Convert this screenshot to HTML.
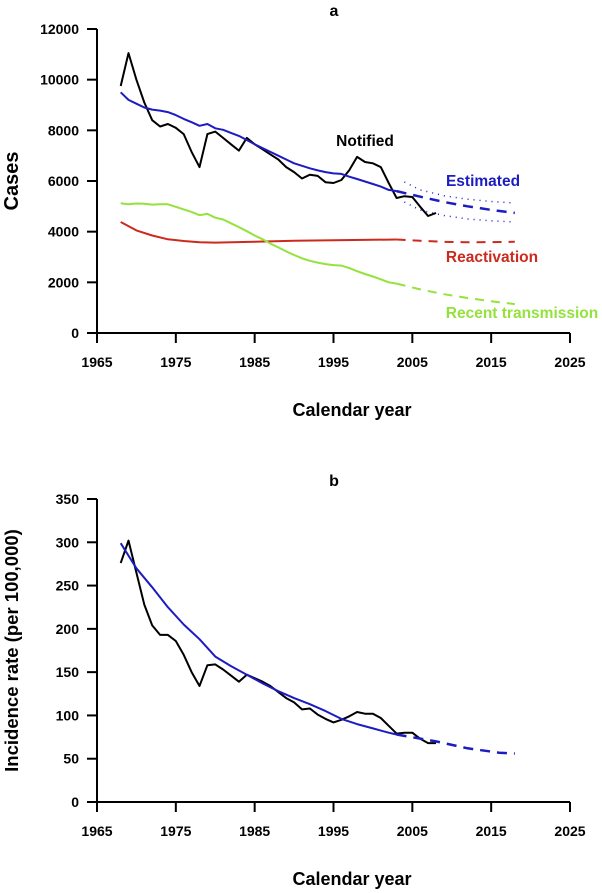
<!DOCTYPE html>
<html><head><meta charset="utf-8"><style>
body{margin:0;background:#fff}
svg{display:block;font-family:"Liberation Sans",Arial,sans-serif;font-weight:bold}
</style></head><body>
<svg id="c" width="602" height="893" viewBox="0 0 602 893"></svg>
<script>
const xTicks=[1965,1975,1985,1995,2005,2015,2025];
const aTicks=[0,2000,4000,6000,8000,10000,12000];
const bTicks=[0,50,100,150,200,250,300,350];
const yrsObs=[1968,1969,1970,1971,1972,1973,1974,1975,1976,1977,1978,1979,1980,1981,1982,1983,1984,1985,1986,1987,1988,1989,1990,1991,1992,1993,1994,1995,1996,1997,1998,1999,2000,2001,2002,2003,2004,2005,2006,2007,2008];
const notifiedA=[9750,11050,10000,9100,8400,8150,8250,8100,7850,7150,6550,7850,7950,7700,7450,7200,7700,7450,7250,7050,6850,6550,6350,6100,6250,6200,5950,5920,6040,6430,6950,6750,6700,6550,5920,5330,5400,5370,4980,4620,4740];
const yrsEst=[1968,1969,1970,1971,1972,1973,1974,1975,1976,1977,1978,1979,1980,1981,1982,1983,1984,1985,1986,1987,1988,1989,1990,1991,1992,1993,1994,1995,1996,1997,1998,1999,2000,2001,2002,2003];
const estimatedA=[9500,9200,9050,8900,8820,8780,8720,8600,8450,8320,8180,8250,8080,8020,7900,7780,7620,7450,7300,7150,7000,6850,6700,6600,6500,6420,6350,6300,6280,6170,6080,5980,5880,5780,5650,5600];
const recentA=[5120,5080,5110,5100,5070,5080,5080,4980,4880,4780,4650,4700,4550,4480,4330,4180,4020,3850,3700,3530,3380,3220,3080,2950,2850,2780,2720,2680,2660,2560,2440,2330,2230,2120,2000,1950];
const yrsReact=[1968,1970,1972,1974,1976,1978,1980,1985,1990,1995,2000,2003];
const reactA=[4380,4050,3850,3700,3630,3580,3570,3600,3640,3660,3680,3690];
const yrsProj=[2003,2006,2009,2012,2015,2018];
const estProjA=[5600,5380,5170,5000,4860,4740];
const yrsBand=[2004,2006,2009,2012,2015,2018];
const estHiA=[5960,5650,5420,5280,5190,5130];
const estLoA=[5170,4850,4640,4500,4430,4380];
const reactProjA=[3690,3640,3600,3580,3590,3600];
const recentProjA=[1950,1720,1530,1380,1250,1140];
const notifiedB=[276,302,265,228,204,193,193,186,170,150,134,158,159,153,146,139,147,143,139,134,127,120,115,107,108,101,96,92,95,99,104,102,102,97,88,79,80,80,73,68,68];
const yrsEstB=[1968,1970,1972,1974,1976,1978,1980,1982,1984,1986,1988,1990,1992,1994,1996,1998,2000,2002,2003];
const estimatedB=[299,270,248,225,205,188,168,157,147,137,128,120,113,105,96,90,85,80,78];
const yrsProjB=[2003,2008,2012,2016,2018];
const estProjB=[78,70,62,57,56];

const NS="http://www.w3.org/2000/svg";
const svg=document.getElementById('c');
function el(tag,attrs,parent){const e=document.createElementNS(NS,tag);for(const k in attrs)e.setAttribute(k,attrs[k]);(parent||svg).appendChild(e);return e;}
const X=yr=>97+(yr-1965)*(570-97)/60;
function panel(id,y0,y1,ymax,ticks,ylab,title,ylabSize){
  const Y=v=>y0-(v/ymax)*(y0-y1);
  const g=el('g',{});
  
  
  const t=el('text',{x:334,y:y1-13,'text-anchor':'middle','font-size':16},g);t.textContent=title;
  
  el('line',{x1:97,y1:y0,x2:97,y2:y1,stroke:'#000','stroke-width':2},g);
  el('line',{x1:97,y1:y0,x2:570,y2:y0,stroke:'#000','stroke-width':2},g);
  ticks.forEach(v=>{
    el('line',{x1:87,y1:Y(v),x2:97,y2:Y(v),stroke:'#000','stroke-width':2},g);
    const tt=el('text',{x:79,y:Y(v)+5,'text-anchor':'end','font-size':14},g);tt.textContent=v;
    
  });
  xTicks.forEach(v=>{
    el('line',{x1:X(v),y1:y0,x2:X(v),y2:y0+10,stroke:'#000','stroke-width':2},g);
    const tt=el('text',{x:X(v),y:y0+34,'text-anchor':'middle','font-size':14},g);tt.textContent=v;
    
  });
  const xl=el('text',{x:352,y:y0+83,'text-anchor':'middle','font-size':18},g);xl.textContent='Calendar year';
  
  const cy=(y0+y1)/2;
  const yl=el('text',{x:0,y:0,'text-anchor':'middle','font-size':ylabSize,transform:`translate(18,${cy}) rotate(-90)`},g);yl.textContent=ylab;
  
  return {g,Y};
}
function line(p,xs,vs,color,name,dash,w){
  const d=xs.map((x,i)=>(i?'L':'M')+X(x).toFixed(1)+','+p.Y(vs[i]).toFixed(1)).join(' ');
  const e=el('path',{d,fill:'none',stroke:color,'stroke-width':w||2,'stroke-dasharray':dash||'none','stroke-linejoin':'round'},p.g);
  
  
}
function label(p,x,y,txt,color,name){
  const t=el('text',{x,y,'text-anchor':'middle','font-size':15.5,fill:color},p.g);t.textContent=txt;
  
  
}
const BLUE='#1c1cc0',RED='#cc2a1e',GREEN='#94e23c';
const pa=panel('panel-a',333,29,12000,aTicks,'Cases','a',20);
line(pa,yrsReact,reactA,RED,'reactivation-line');
line(pa,yrsProj,reactProjA,RED,'reactivation-projection','9,7');
line(pa,yrsEst,recentA,GREEN,'recent-transmission-line');
line(pa,yrsProj,recentProjA,GREEN,'recent-transmission-projection','9,7');
line(pa,yrsObs,notifiedA,'#000','notified-line');
line(pa,yrsEst,estimatedA,BLUE,'estimated-line');
line(pa,yrsProj,estProjA,BLUE,'estimated-projection','10,7',2.5);
line(pa,yrsBand,estHiA,BLUE,'estimated-upper-bound','1,5',1.5);
line(pa,yrsBand,estLoA,BLUE,'estimated-lower-bound','1,5',1.5);
label(pa,365,146,'Notified','#000','notified-label');
label(pa,483,186,'Estimated',BLUE,'estimated-label');
label(pa,492,262,'Reactivation',RED,'reactivation-label');
label(pa,522,318,'Recent transmission',GREEN,'recent-transmission-label');
const pb=panel('panel-b',802,499,350,bTicks,'Incidence rate (per 100,000)','b',18.5);
line(pb,yrsObs,notifiedB,'#000','notified-rate-line');
line(pb,yrsEstB,estimatedB,BLUE,'estimated-rate-line');
line(pb,yrsProjB,estProjB,BLUE,'estimated-rate-projection','10,7',2.5);
</script>
</body></html>
